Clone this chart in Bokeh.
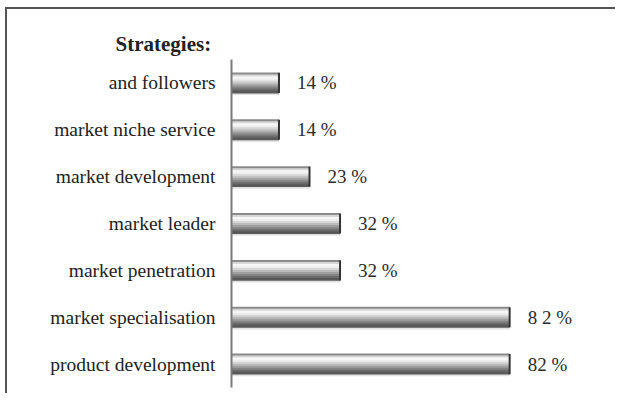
from bokeh.plotting import figure
from bokeh.models import FactorRange, Range1d, ColumnDataSource
from bokeh.transform import dodge
from bokeh.core.properties import value
from bokeh.embed import file_html
from bokeh.resources import INLINE

# ---- data (top to bottom as in the picture) ----
strategies = ["and followers", "market niche service", "market development",
              "market leader", "market penetration", "market specialisation",
              "product development"]
shares = [14, 14, 23, 32, 32, 82, 82]
share_labels = ["14 %", "14 %", "23 %", "32 %", "32 %", "8 2 %", "82 %"]
title_text = "Strategies:"

factors = list(reversed(strategies))

p = figure(width=610, height=386, output_backend="svg", toolbar_location=None,
           y_range=FactorRange(factors=factors), x_range=Range1d(0, 113.8),
           min_border_left=224, min_border_right=0, min_border_top=50,
           min_border_bottom=8)
p.styles = {"border-top": "2px solid #555555", "border-left": "2px solid #555555",
            "margin-left": "5px", "margin-top": "7px"}
p.background_fill_color = "white"
p.border_fill_color = "white"
p.outline_line_color = None
p.xgrid.grid_line_color = None
p.ygrid.grid_line_color = None
p.xaxis.visible = False

p.title.text = title_text
p.title.align = "left"
p.title.offset = -116
p.title.standoff = 8
p.title.text_font = "Liberation Serif"
p.title.text_font_size = "21px"
p.title.text_font_style = "bold"
p.title.text_color = "#222222"

ax = p.yaxis[0]
ax.axis_line_color = "#7a7a7a"
ax.axis_line_width = 2
ax.major_tick_line_color = None
ax.minor_tick_line_color = None
ax.major_label_standoff = 10
ax.major_label_text_font = "Liberation Serif"
ax.major_label_text_font_size = "19.5px"
ax.major_label_text_color = "#222222"

src = ColumnDataSource(dict(cat=strategies, val=shares, lab=share_labels))

bar_h = 0.43
stripe_colors = ["#8a8a8a", "#d8d8d8", "#f7f7f7", "#eeeeee", "#d6d6d6",
                 "#bbbbbb", "#9f9f9f", "#848484", "#6a6a6a", "#585858"]
n = len(stripe_colors)
sh = bar_h / n
# soft shadow under bars
p.hbar(y=dodge("cat", -bar_h / 2 - 0.02, range=p.y_range), right="val", left=0,
       height=0.05, source=src, fill_color="#e2e2e2", line_color=None)
for i, c in enumerate(stripe_colors):
    off = bar_h / 2 - sh * (i + 0.5)
    p.hbar(y=dodge("cat", off, range=p.y_range), right="val", left=0,
           height=sh * 1.4, source=src, fill_color=c, line_color=None)

# dark end cap
p.segment(x0="val", x1="val", y0=dodge("cat", -bar_h / 2, range=p.y_range),
          y1=dodge("cat", bar_h / 2, range=p.y_range), source=src,
          line_color="#333333", line_width=2)

p.text(x="val", y="cat", text="lab", source=src, x_offset=18,
       text_baseline="middle", text_align="left",
       text_font=value("Liberation Serif"), text_font_size="19px",
       text_color="#2a2a2a")

open("out.html", "w").write(file_html(p, INLINE))
